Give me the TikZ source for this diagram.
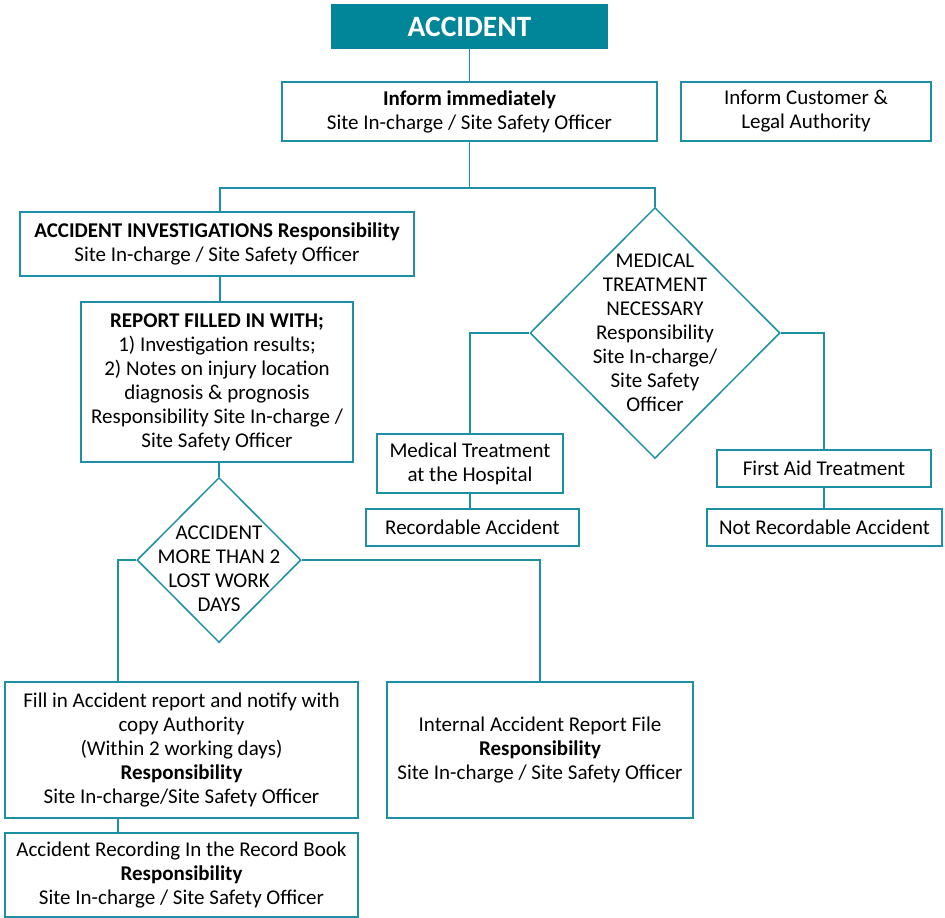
\documentclass[tikz,border=0pt]{standalone}
\usepackage{fontspec}
\setmainfont{Carlito}
\usetikzlibrary{shapes.geometric,calc}
\definecolor{lc}{RGB}{30,144,165}
\definecolor{accfill}{RGB}{0,133,153}
\begin{document}
\begin{tikzpicture}[x=1pt,y=-1pt,
  every node/.style={font=\fontsize{21}{24}\selectfont, align=center, inner sep=0pt},
  bx/.style={draw=lc, line width=1.5pt, rectangle, text=black},
  dm/.style={draw=lc, line width=1.5pt, diamond, inner sep=0pt},
  ln/.style={draw=lc, line width=1.5pt}]
\useasboundingbox (0,0) rectangle (945,918);
\node[fill=accfill, minimum width=277pt, minimum height=45pt, text=white,
      font=\fontsize{29.5}{32}\selectfont\bfseries] (acc) at (469.5,26.5) {ACCIDENT};
\node[bx, minimum width=375pt, minimum height=59pt] (inform) at (469.5,111.5)
  {\textbf{Inform immediately}\\Site In-charge / Site Safety Officer};
\node[bx, minimum width=250pt, minimum height=59pt] (cust) at (806,111.5)
  {Inform Customer \&\\Legal Authority};
\node[bx, minimum width=394pt, minimum height=64pt] (inv) at (217,244)
  {\textbf{ACCIDENT INVESTIGATIONS Responsibility}\\Site In-charge / Site Safety Officer};
\node[bx, minimum width=272pt, minimum height=160pt] (report) at (217,382)
  {\textbf{REPORT FILLED IN WITH;}\\1) Investigation results;\\2) Notes on injury location\\diagnosis \& prognosis\\Responsibility Site In-charge /\\Site Safety Officer};
\node[dm, minimum width=164pt, minimum height=165pt,
  label={[align=center,yshift=-9pt]center:ACCIDENT\\MORE THAN 2\\LOST WORK\\DAYS}] (d1) at (219,560) {};
\node[dm, minimum width=250pt, minimum height=251pt,
  label={[align=center]center:MEDICAL\\TREATMENT\\NECESSARY\\Responsibility\\Site In-charge/\\Site Safety\\Officer}] (d2) at (655,333) {};
\node[bx, minimum width=186pt, minimum height=59pt] (med) at (470,463.5)
  {Medical Treatment\\at the Hospital};
\node[bx, minimum width=213pt, minimum height=37pt] (rec) at (472.5,527.5)
  {Recordable Accident};
\node[bx, minimum width=214pt, minimum height=37pt] (fa) at (824,468.5)
  {First Aid Treatment};
\node[bx, minimum width=235pt, minimum height=37pt] (nrec) at (824.5,527.5)
  {Not Recordable Accident};
\node[bx, minimum width=353pt, minimum height=136pt] (fill) at (181.5,750)
  {Fill in Accident report and notify with\\copy Authority\\(Within 2 working days)\\\textbf{Responsibility}\\Site In-charge/Site Safety Officer};
\node[bx, minimum width=306pt, minimum height=136pt] (internal) at (540,750)
  {Internal Accident Report File\\\textbf{Responsibility}\\Site In-charge / Site Safety Officer};
\node[bx, minimum width=353pt, minimum height=84pt] (record) at (181.5,875)
  {Accident Recording In the Record Book\\\textbf{Responsibility}\\Site In-charge / Site Safety Officer};
\coordinate (j1) at (469.5,188);
\draw[ln] (acc.south) -- (inform.north);
\draw[ln] (inform.south) -- (j1);
\draw[ln] ([xshift=3pt]inv.north) |- (j1) -| (d2.north);
\draw[ln] ([xshift=3pt]inv.south) -- ([xshift=3pt]report.north);
\draw[ln] ([xshift=2pt]report.south) -- (d1.north);
\draw[ln] (d1.west) -| ([xshift=-63.5pt]fill.north);
\draw[ln] (d1.east) -| (internal.north);
\draw[ln] ([xshift=-63.5pt]fill.south) -- ([xshift=-63.5pt]record.north);
\draw[ln] (d2.west) -| (med.north);
\draw[ln] (med.south) -- (med.south |- rec.north);
\draw[ln] (d2.east) -| (fa.north);
\draw[ln] (fa.south) -- (fa.south |- nrec.north);
\end{tikzpicture}
\end{document}
